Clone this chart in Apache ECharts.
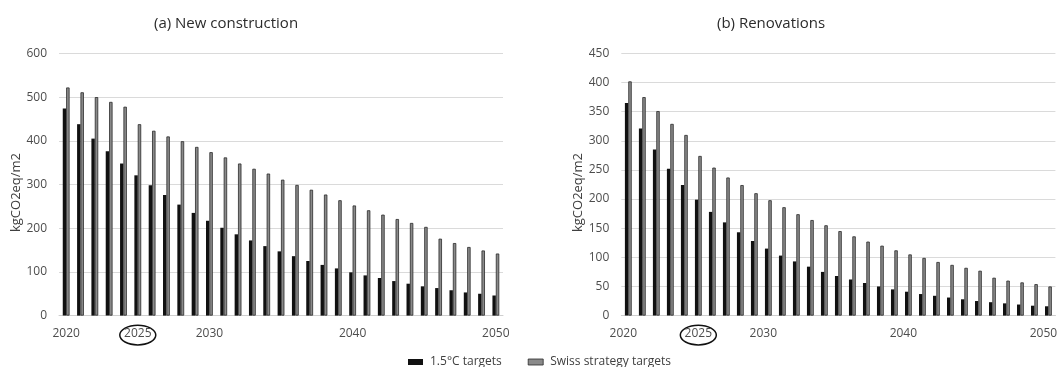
<!DOCTYPE html>
<html>
<head>
<meta charset="utf-8">
<script src="https://cdn.jsdelivr.net/npm/echarts@6/dist/echarts.min.js"></script>
<style>
  html, body { margin: 0; padding: 0; background: #ffffff; }
  #chart { width: 1060px; height: 367px; }
</style>
</head>
<body>
<div id="chart"></div>
<script>
// Years on the horizontal axis
const years = [];
for (let y = 2020; y <= 2050; y++) years.push(String(y));

// Year labels shown under each panel
const shownYears = ['2020', '2025', '2030', '2040', '2050'];
const circledYear = '2025';

// (a) New construction, kgCO2eq/m2
const newTarget15 = [474, 438, 405, 376, 348, 321, 298, 276, 254, 235, 217, 201, 186, 172, 159, 147, 136, 125, 116, 108, 99, 92, 86, 79, 73, 67, 63, 58, 53, 50, 46];
const newSwiss = [522, 511, 500, 489, 478, 438, 423, 410, 399, 386, 374, 362, 348, 336, 325, 311, 299, 288, 277, 264, 252, 241, 231, 221, 212, 203, 176, 166, 157, 149, 142];

// (b) Renovations, kgCO2eq/m2
const renoTarget15 = [365, 321, 285, 252, 224, 199, 178, 160, 143, 128, 115, 103, 93, 84, 75, 68, 62, 56, 50, 45, 41, 37, 34, 31, 28, 25, 23, 21, 19, 17, 16];
const renoSwiss = [402, 375, 351, 329, 310, 274, 254, 237, 224, 210, 198, 186, 174, 164, 155, 145, 136, 127, 120, 112, 105, 99, 92, 87, 82, 77, 65, 60, 57, 54, 50];

const seriesNames = ['1.5°C targets', 'Swiss strategy targets'];
const panelTitles = ['(a) New construction', '(b) Renovations'];
const yAxisName = 'kgCO2eq/m2';

const FONT = '"Open Sans", "Noto Sans", sans-serif';
const LABEL_COLOR = '#4d4d4d';

const chart = echarts.init(document.getElementById('chart'), null, { renderer: 'canvas' });

function xAxisFor(gridIndex, shiftLabels) {
  return {
    type: 'category',
    gridIndex: gridIndex,
    data: years,
    boundaryGap: true,
    axisTick: { show: false },
    axisLine: { show: true, lineStyle: { color: '#cfcfcf', width: 1 } },
    axisLabel: {
      interval: (idx, val) => shownYears.indexOf(val) !== -1,
      margin: 12,
      fontFamily: FONT,
      fontSize: 12,
      color: LABEL_COLOR,
      formatter: v => (v === circledYear || !shiftLabels) ? '{c|' + v + '}' : '{n|' + v + '}',
      rich: {
        c: { fontFamily: FONT, fontSize: 12, color: LABEL_COLOR },
        n: { fontFamily: FONT, fontSize: 12, color: LABEL_COLOR, padding: [0, 10, 0, 0] }
      }
    },
    splitLine: { show: false }
  };
}

function yAxisFor(gridIndex, max, interval, nameGap) {
  return {
    type: 'value',
    gridIndex: gridIndex,
    min: 0,
    max: max,
    interval: interval,
    name: yAxisName,
    nameLocation: 'middle',
    nameGap: nameGap,
    nameTextStyle: { fontFamily: FONT, fontSize: 13, color: '#404040', padding: [0, 16, 0, 0] },
    axisLine: { show: false },
    axisTick: { show: false },
    axisLabel: { margin: 12, fontFamily: FONT, fontSize: 12, color: LABEL_COLOR },
    splitLine: { lineStyle: { color: '#dadada', width: 1 } }
  };
}

const blackStyle = { color: '#111111' };
const grayStyle = { color: '#8a8a8a', borderColor: '#2a2a2a', borderWidth: 0.8 };

function barSeries(name, data, axisIndex, style) {
  return {
    name: name,
    type: 'bar',
    xAxisIndex: axisIndex,
    yAxisIndex: axisIndex,
    data: data,
    barWidth: 3.4,
    barGap: '0%',
    itemStyle: style,
    emphasis: { disabled: true },
    animation: false
  };
}

const option = {
  backgroundColor: '#ffffff',
  animation: false,
  title: [
    { text: panelTitles[0], left: 149, top: 11, textStyle: { fontFamily: FONT, fontSize: 15, fontWeight: 'normal', color: '#2b2b2b' } },
    { text: panelTitles[1], left: 712, top: 11, textStyle: { fontFamily: FONT, fontSize: 15, fontWeight: 'normal', color: '#2b2b2b' } }
  ],
  legend: {
    data: [
      { name: seriesNames[0], itemStyle: blackStyle },
      { name: seriesNames[1], itemStyle: grayStyle }
    ],
    left: 403,
    top: 351,
    icon: 'rect',
    itemWidth: 15,
    itemHeight: 6,
    itemGap: 26,
    textStyle: { fontFamily: FONT, fontSize: 12, color: '#404040', padding: [0, 0, 0, 2] },
    selectedMode: false
  },
  grid: [
    { left: 59, right: 557, top: 53.4, bottom: 51.4 },
    { left: 621.3, right: -3.4, top: 53.4, bottom: 51.4 }
  ],
  xAxis: [xAxisFor(0, false), xAxisFor(1, true)],
  yAxis: [yAxisFor(0, 600, 100, 32), yAxisFor(1, 450, 50, 36)],
  series: [
    barSeries(seriesNames[0], newTarget15, 0, blackStyle),
    barSeries(seriesNames[1], newSwiss, 0, grayStyle),
    barSeries(seriesNames[0], renoTarget15, 1, blackStyle),
    barSeries(seriesNames[1], renoSwiss, 1, grayStyle)
  ]
};

chart.setOption(option);

// Circle the highlighted year label under each panel
function circleYear() {
  const rings = [0, 1].map(i => {
    const cx = chart.convertToPixel({ xAxisIndex: i }, circledYear);
    const base = chart.convertToPixel({ yAxisIndex: i }, 0);
    return {
      type: 'ellipse',
      shape: { cx: cx, cy: base + 19.5, rx: 18, ry: 9.8 },
      style: { fill: 'none', stroke: '#111111', lineWidth: 1.5 },
      silent: true
    };
  });
  chart.setOption({ graphic: rings });
}
circleYear();
</script>
</body>
</html>
